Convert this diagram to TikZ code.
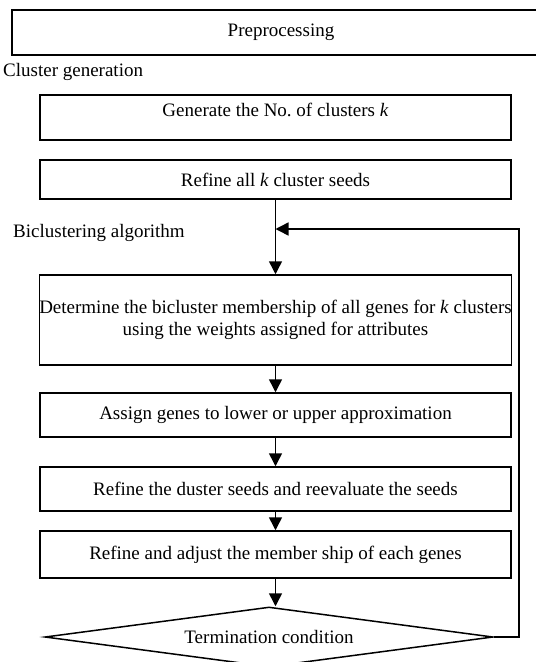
\documentclass[tikz,border=0pt]{standalone}
\usepackage{fontspec}
\setmainfont{Liberation Serif}
\usetikzlibrary{arrows.meta,shapes.geometric}
\begin{document}
\begin{tikzpicture}[x=1bp,y=-1bp,
  every node/.style={font=\fontsize{19bp}{22bp}\selectfont, inner sep=0pt},
  stepbox/.style={draw, line width=1.5bp, minimum width=471bp, align=center},
  lbl/.style={anchor=west},
  flow/.style={line width=1.5bp, -{Triangle[width=13bp,length=13bp]}}]
\useasboundingbox (0,0) rectangle (536,662);
\begin{scope}
\clip (0,0) rectangle (536,662);
\draw[line width=1.5bp] (12,10) rectangle (560,55);
\node (pre) at (281,32) {Preprocessing};
\node[lbl] (cg) at (3,72) {Cluster generation};
\node[stepbox, minimum height=45bp] (gen) at (275.5,117.5) {};
\node (gentxt) at (275.5,110) {Generate the No.\ of clusters \textit{k}};
\node[stepbox, minimum height=39bp] (ref) at (275.5,179.5) {Refine all \textit{k} cluster seeds};
\node[lbl] (ba) at (13,233) {Biclustering algorithm};
\node[stepbox, minimum height=90bp] (det) at (275.5,320) {Determine the bicluster membership of all genes for \textit{k} clusters\\using the weights assigned for attributes};
\node[stepbox, minimum height=44bp] (asg) at (275.5,415) {Assign genes to lower or upper approximation};
\node[stepbox, minimum height=44bp] (rds) at (275.5,489) {Refine the duster seeds and reevaluate the seeds};
\node[stepbox, minimum height=47bp] (rad) at (275.5,554.5) {Refine and adjust the member ship of each genes};
\node[draw, line width=1.5bp, diamond, aspect=7.47, minimum width=448bp, minimum height=60bp, inner sep=0pt] (term) at (269,637) {};
\node (termtxt) at (269,637) {Termination condition};
\coordinate (fbr) at (519,637);
\coordinate (fbt) at (519,229);
\coordinate (join) at (275.5,229);
\draw[flow] (ref.south) -- (det.north);
\draw[flow] (det.south) -- (asg.north);
\draw[flow] (asg.south) -- (rds.north);
\draw[flow] (rds.south) -- (rad.north);
\draw[flow] (rad.south) -- (rad.south |- term.north);
\draw[flow] (term.east) -- (fbr) -- (fbt) -- (join);
\end{scope}
\end{tikzpicture}
\end{document}
